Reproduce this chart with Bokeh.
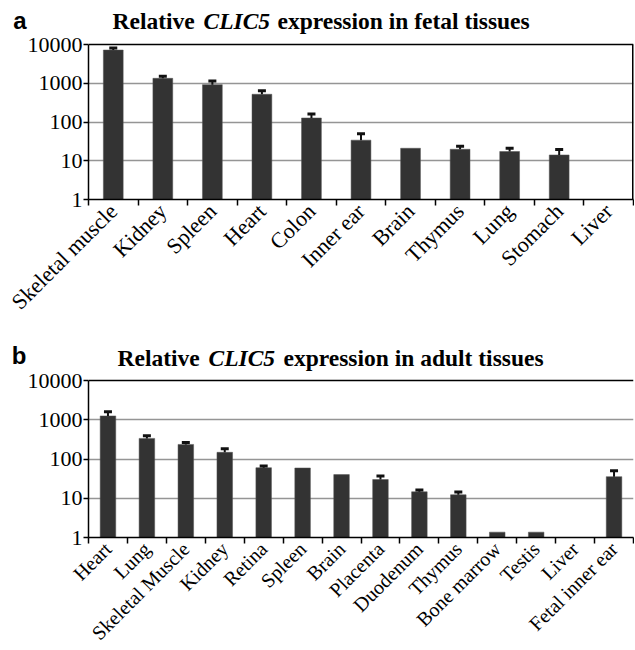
from math import pi
from bokeh.plotting import figure
from bokeh.models import FixedTicker, Label, Span, Range1d, LogAxis
from bokeh.layouts import column
from bokeh.embed import file_html
from bokeh.resources import INLINE

# ---- data ----
fetal_tissues = ["Skeletal muscle", "Kidney", "Spleen", "Heart", "Colon", "Inner ear",
                 "Brain", "Thymus", "Lung", "Stomach", "Liver"]
fetal_values = [7200, 1340, 920, 520, 127, 34, 21, 19.8, 17.3, 14.1, 1]
fetal_err_top = [8100, 1510, 1140, 645, 162, 50, None, 23.6, 21, 19.4, None]

adult_tissues = ["Heart", "Lung", "Skeletal Muscle", "Kidney", "Retina", "Spleen", "Brain",
                 "Placenta", "Duodenum", "Thymus", "Bone marrow", "Testis", "Liver",
                 "Fetal inner ear"]
adult_values = [1250, 335, 235, 148, 60, 59, 40, 30, 14.6, 12.3, 1.37, 1.37, 1, 35.5]
adult_err_top = [1610, 390, 265, 183, 66, None, None, 37, 16.2, 14.4, None, None, None, 50]

y_ticks = [1, 10, 100, 1000, 10000]
y_tick_labels = ["1", "10", "100", "1000", "10000"]
grid_ticks = [10, 100, 1000]
y_min, y_max = 1, 10000

SERIF = "Liberation Serif"
FRAME_W = 545
B_LEFT = 88
B_RIGHT = 1


def make_panel(tissues, values, err_tops, letter, title_tail, decade_px, head_px,
               b_top, b_bottom, label_size, title_xs, title_base_px, letter_mid_px,
               right_border):
    n = len(tissues)
    xs = list(range(1, n + 1))
    decades = 4
    plot_h = decade_px * decades
    top = y_max * 10 ** (head_px / decade_px)   # headroom above the axis for the title
    p = figure(frame_width=FRAME_W, frame_height=int(round(plot_h + head_px)),
               x_range=Range1d(0.5, n + 0.5), y_range=Range1d(y_min, top),
               y_axis_type="log", output_backend="svg", toolbar_location=None,
               min_border_left=B_LEFT, min_border_right=B_RIGHT, min_border_top=b_top,
               min_border_bottom=b_bottom)
    p.background_fill_color = "white"
    p.border_fill_color = "white"
    p.outline_line_color = None

    # y axis
    ya = p.yaxis[0]
    ya.ticker = FixedTicker(ticks=y_ticks)
    ya.bounds = (y_min, y_max)
    ya.major_label_overrides = dict(zip(y_ticks, y_tick_labels))
    ya.major_tick_out = 5
    ya.major_tick_in = 0
    ya.major_tick_line_width = 1.5
    ya.axis_line_width = 1.5
    ya.axis_line_color = "black"
    ya.major_label_text_font = SERIF
    ya.major_label_text_font_size = "22px"
    ya.major_label_text_color = "black"
    ya.major_label_standoff = 1

    # panel letter, carried by an outer left axis with one labelled tick
    letter_val = y_max * 10 ** ((head_px - letter_mid_px) / decade_px)
    la = LogAxis(ticker=FixedTicker(ticks=[letter_val]),
                 major_label_overrides={letter_val: letter},
                 axis_line_color=None, major_tick_line_color=None,
                 minor_tick_line_color=None, major_tick_out=0, major_tick_in=0,
                 major_label_standoff=-2, major_label_text_font="Liberation Sans",
                 major_label_text_font_style="bold", major_label_text_font_size="24px",
                 major_label_text_color="black")
    p.add_layout(la, "left")

    # x axis: labels at category centres, ticks at boundaries (minor ticks)
    xa = p.xaxis[0]
    xa.ticker = FixedTicker(ticks=xs, minor_ticks=[i + 0.5 for i in range(n + 1)])
    xa.major_label_overrides = dict(zip(xs, tissues))
    xa.major_tick_out = 0
    xa.major_tick_in = 0
    xa.minor_tick_out = 6
    xa.minor_tick_in = 0
    xa.minor_tick_line_width = 1.5
    xa.minor_tick_line_color = "black"
    xa.axis_line_width = 1.5
    xa.axis_line_color = "black"
    xa.major_label_orientation = pi / 4
    xa.major_label_text_font = SERIF
    xa.major_label_text_font_size = label_size
    xa.major_label_text_color = "black"
    xa.major_label_standoff = 2

    p.xgrid.visible = False
    p.ygrid.ticker = FixedTicker(ticks=grid_ticks)
    p.ygrid.grid_line_color = "#959595"
    p.ygrid.grid_line_width = 1.5

    # top border of the plot area
    p.add_layout(Span(location=y_max, dimension="width", line_color="black",
                      line_width=1.5))
    if right_border:
        p.segment(x0=[n + 0.5], y0=[y_min], x1=[n + 0.5], y1=[y_max],
                  line_color="black", line_width=3)

    p.vbar(x=xs, top=values, bottom=y_min, width=0.4, fill_color="#333333",
           line_color="#555555", line_width=0.5)

    ex = [x for x, e in zip(xs, err_tops) if e is not None]
    ev = [v for v, e in zip(values, err_tops) if e is not None]
    et = [e for e in err_tops if e is not None]
    p.segment(x0=ex, y0=ev, x1=ex, y1=et, line_color="#111111", line_width=2)
    p.rect(x=ex, y=et, width=8, height=3, width_units="screen", height_units="screen",
           fill_color="#111111", line_color=None)

    # title (screen units relative to the plot frame)
    parts = [("Relative", "bold"), ("CLIC5", "bold italic"), (title_tail, "bold")]
    base_y = plot_h + head_px - title_base_px
    for (txt, style), tx in zip(parts, title_xs):
        p.add_layout(Label(x=tx, y=base_y, x_units="screen", y_units="screen",
                           text=txt, text_font=SERIF, text_font_style=style,
                           text_font_size="23.5px", text_color="black",
                           text_baseline="alphabetic"))
    return p


# panel a: frame 8..199 px (10000 at 44)
pa = make_panel(fetal_tissues, fetal_values, fetal_err_top, "a",
                "expression in fetal tissues", 38.75, 36, 8, 127, "22px",
                [24, 115, 189], 12, 12, True)
# panel b: frame 340..537 px (10000 at 380)
pb = make_panel(adult_tissues, adult_values, adult_err_top, "b",
                "expression in adult tissues", 39.25, 40, 14, 113, "20px",
                [29, 120, 195], 17, 15, False)

layout = column(pa, pb, spacing=0)
open("out.html", "w").write(file_html(layout, INLINE))
